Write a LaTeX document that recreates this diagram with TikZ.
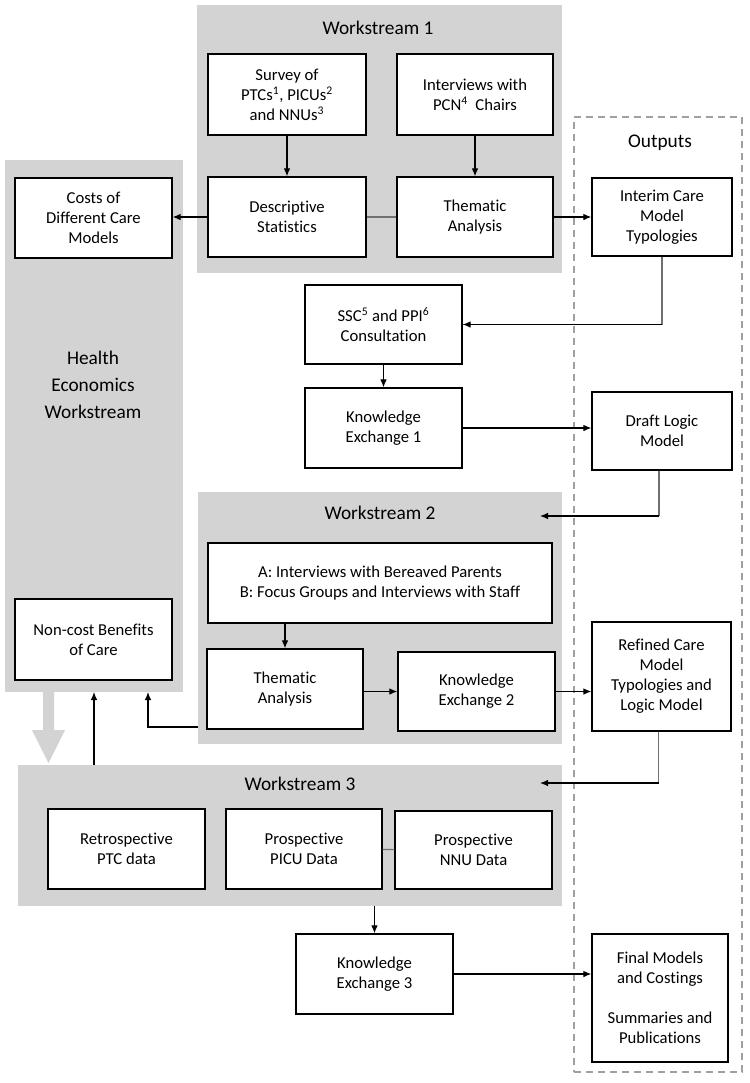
\documentclass[tikz,border=0pt]{standalone}
\usepackage{fontspec}
\setmainfont{Carlito}[Ligatures=NoCommon]
\usetikzlibrary{arrows.meta}
\definecolor{wsgray}{HTML}{D3D3D3}
\definecolor{dashgray}{HTML}{A0A0A0}
\definecolor{linegray}{HTML}{707070}
\tikzset{
  box/.style={draw=black, line width=1pt, fill=white, align=center, inner sep=0pt,
    font=\fontsize{12.5}{15}\selectfont},
  region/.style={draw=none, fill=wsgray, inner sep=0pt},
  outbox/.style={draw=dashgray, line width=1.5pt, dash pattern=on 5pt off 4pt, inner sep=0pt},
  title/.style={align=center, inner sep=0pt, font=\fontsize{14.5}{20}\selectfont},
  conn/.style={draw=black, line width=0.9pt, -{Latex[length=6pt,width=5pt]}},
  plain/.style={draw=black, line width=0.9pt},
  thin/.style={draw=linegray, line width=0.8pt},
}
\newcommand{\mybox}[7][box]{\node[#1,minimum width={(#5-#3)*0.75pt},minimum height={(#6-#4)*0.75pt}] (#2) at ({(#3+#5)/2},{(#4+#6)/2}) {#7};}
\begin{document}
\begin{tikzpicture}[x=0.75pt,y=-0.75pt]
\useasboundingbox (0,0) rectangle (750,1083);
% regions
\mybox[region]{health}{5}{160}{183}{692}{}
\mybox[region]{ws1}{197}{5}{562}{273}{}
\mybox[region]{ws2}{198}{492}{562}{744}{}
\mybox[region]{ws3}{18}{765}{562}{906}{}
\mybox[outbox]{outputs}{574}{117}{742}{1072}{}
% big gray arrow
\fill[wsgray] (43,692) -- (54,692) -- (54,730) -- (65,730) -- (48.5,763) -- (32,730) -- (43,730) -- cycle;
% titles
\node[title] (t1) at (378,28) {Workstream 1};
\node[title] (t2) at (380,513) {Workstream 2};
\node[title] (t3) at (300,784) {Workstream 3};
\node[title] (tout) at (660,143) {Outputs};
\node[title] (the) at (93,385) {Health\\Economics\\Workstream};
% workstream 1
\mybox{survey}{208}{54}{366}{135}{Survey of\\PTCs\textsuperscript{1}, PICUs\textsuperscript{2}\\and NNUs\textsuperscript{3}}
\mybox{interv}{397}{54}{553}{135}{Interviews with\\PCN\textsuperscript{4}\ \ Chairs}
\mybox{desc}{208}{177}{366}{257}{Descriptive\\Statistics}
\mybox{them1}{397}{177}{553}{257}{Thematic\\Analysis}
% health economics
\mybox{costs}{15}{178}{172}{258}{Costs of\\Different Care\\Models}
\mybox{noncost}{15}{599}{172}{680}{Non-cost Benefits\\of Care}
% middle
\mybox{ssc}{305}{285}{462}{364}{SSC\textsuperscript{5} and PPI\textsuperscript{6}\\Consultation}
\mybox{ke1}{305}{388}{462}{468}{Knowledge\\Exchange 1}
% outputs
\mybox{interim}{592}{178}{732}{256}{Interim Care\\Model\\Typologies}
\mybox{draft}{592}{392}{732}{470}{Draft Logic\\Model}
\mybox{refined}{592}{622}{731}{731}{Refined Care\\Model\\Typologies and\\Logic Model}
\mybox{final}{592}{934}{728}{1062}{Final Models\\and Costings\\[15pt]Summaries and\\Publications}
% workstream 2
\mybox{ab}{208}{543}{552}{623}{A: Interviews with Bereaved Parents\\B: Focus Groups and Interviews with Staff}
\mybox{them2}{207}{649}{363}{729}{Thematic\\Analysis}
\mybox{ke2}{398}{652}{555}{731}{Knowledge\\Exchange 2}
% workstream 3
\mybox{retro}{48}{809}{205}{889}{Retrospective\\PTC data}
\mybox{picu}{226}{809}{382}{889}{Prospective\\PICU Data}
\mybox{nnu}{395}{811}{552}{889}{Prospective\\NNU Data}
\mybox{ke3}{296}{934}{453}{1014}{Knowledge\\Exchange 3}
% coordinates
\coordinate (ws2in) at (540,516);
\coordinate (ws3in) at (540,783);
\coordinate (ws2out) at (198,727);
\coordinate (hbot1) at (148,692);
\coordinate (hbot2) at (94,692);
\coordinate (ws3top) at (94,765);
% connectors
\draw[conn] (survey) -- (desc);
\draw[conn] (interv) -- (them1);
\draw[thin] (desc) -- (them1);
\draw[conn] (desc.west) -- (costs.east |- desc.west);
\draw[conn] (them1.east) -- (interim.west |- them1.east);
\draw[thin] (interim.south) |- (ssc.east);
\draw[conn] (interim.south |- ssc.east) -- (ssc.east);
\draw[conn] (ssc) -- (ke1);
\draw[conn] (ke1.east) -- (ke1.east -| draft.west);
\draw[thin] ([xshift=-2.25pt]draft.south) -- ([xshift=-2.25pt]draft.south |- ws2in);
\draw[conn] ([xshift=-2.25pt]draft.south |- ws2in) -- (ws2in);
\draw[conn] (ab.south -| them2.north) -- (them2.north);
\draw[conn] (them2.east |- ke2.west) -- (ke2.west);
\draw[conn] (ke2.east) -- (ke2.east -| refined.west);
\draw[thin] ([xshift=-2.25pt]refined.south) -- ([xshift=-2.25pt]refined.south |- ws3in);
\draw[conn] ([xshift=-2.25pt]refined.south |- ws3in) -- (ws3in);
\draw[conn] (ws2out) -| (hbot1);
\draw[conn] (ws3top) -- (hbot2);
\draw[thin] (picu) -- (nnu);
\draw[conn] (ws3.south -| ke3.north) -- (ke3.north);
\draw[conn] (ke3.east) -- (ke3.east -| final.west);
\end{tikzpicture}
\end{document}
